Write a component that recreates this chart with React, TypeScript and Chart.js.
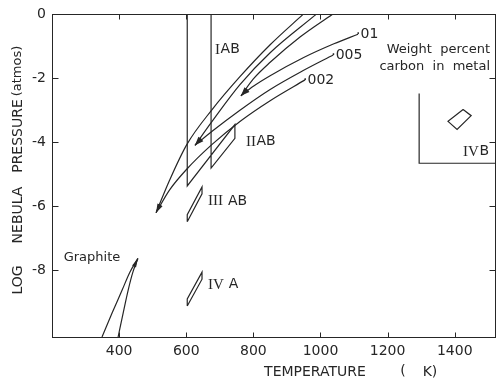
import React, { useEffect, useRef } from "react";
import { Chart, registerables } from "chart.js";

Chart.register(...registerables);

// ---------- axes ----------
const X_MIN = 200;
const X_MAX = 1523;
const Y_MIN = -10.1;
const Y_MAX = 0;
const X_TICKS = [400, 600, 800, 1000, 1200, 1400];
const Y_TICKS = [0, -2, -4, -6, -8];

// ---------- carbon-content wedges (T in K, log P in atm) ----------
// wedge 1 (0.002 wt%)
const W1_STEEP_T = [510, 550, 602, 677, 760, 850, 948];
const W1_STEEP_P = [-6.21, -5.2, -4.07, -2.98, -1.95, -0.95, 0];
const W1_SHALLOW_T = [510, 550, 602, 677, 760, 850, 954];
const W1_SHALLOW_P = [-6.21, -5.5, -4.84, -4.07, -3.35, -2.7, -2.05];
// wedge 2 (0.005 wt%)
const W2_STEEP_T = [626, 677, 760, 850, 987];
const W2_STEEP_P = [-4.1, -3.35, -2.2, -1.2, 0];
const W2_SHALLOW_T = [626, 677, 760, 850, 950, 1038];
const W2_SHALLOW_P = [-4.1, -3.66, -3.0, -2.35, -1.75, -1.27];
// wedge 3 (0.01 wt%)
const W3_STEEP_T = [763, 800, 850, 940, 1035];
const W3_STEEP_P = [-2.55, -2.02, -1.5, -0.7, 0];
const W3_SHALLOW_T = [763, 800, 850, 950, 1040, 1112];
const W3_SHALLOW_P = [-2.55, -2.25, -1.92, -1.35, -0.92, -0.62];
const CARBON_LABELS = ["·01", "·005", "·002"];

// ---------- graphite ----------
const GRAPHITE_LEFT_T = [349, 379, 409, 432, 456];
const GRAPHITE_RIGHT_T = [397, 412, 427, 441, 456];
const GRAPHITE_P = [-10.1, -9.35, -8.63, -8.07, -7.64];

// ---------- iron meteorite group fields ----------
const IAB_IIAB_T = [603, 603, 745, 745, 674, 674];
const IAB_IIAB_P = [0, -5.37, -3.45, -3.88, -4.81, 0];
const IIIAB_T = [603, 603, 647, 647, 603];
const IIIAB_P = [-6.49, -6.27, -5.4, -5.62, -6.49];
const IVA_T = [603, 603, 647, 647, 603];
const IVA_P = [-9.13, -8.91, -8.07, -8.29, -9.13];
const IVB_T = [1425, 1449, 1407, 1380, 1425];
const IVB_P = [-2.98, -3.17, -3.6, -3.35, -2.98];
const INSET_T = [1294, 1294, 1523];
const INSET_P = [-2.48, -4.66, -4.66];

const GROUP_NUMERALS = ["I", "II", "III", "IV", "IV"];
const GROUP_LETTERS = ["AB", "AB", " AB", " A", "B"];
const GROUP_T = [686, 778, 665, 665, 1425];
const GROUP_P = [-1.09, -3.98, -5.84, -8.45, -4.29];

const INK = "#262626";
const SANS = "'DejaVu Sans', sans-serif";
const SERIF = "'Liberation Serif', serif";

const pts = (T: number[], P: number[]) => T.map((t, i) => ({ x: t, y: P[i] }));

function curve(T: number[], P: number[]) {
  return {
    data: pts(T, P),
    showLine: true,
    borderColor: INK,
    borderWidth: 1.2,
    pointRadius: 0,
    fill: false,
    cubicInterpolationMode: "monotone" as const,
  };
}
function poly(T: number[], P: number[]) {
  return {
    data: pts(T, P),
    showLine: true,
    borderColor: INK,
    borderWidth: 1.2,
    pointRadius: 0,
    fill: false,
    tension: 0,
  };
}

function drawArrow(ctx: CanvasRenderingContext2D, tx: number, ty: number, fx: number, fy: number) {
  const dx = tx - fx, dy = ty - fy;
  const d = Math.hypot(dx, dy) || 1;
  const ux = dx / d, uy = dy / d;
  const len = 9, half = 2.2;
  const bx = tx - ux * len, by = ty - uy * len;
  ctx.beginPath();
  ctx.moveTo(tx, ty);
  ctx.lineTo(bx - uy * half, by + ux * half);
  ctx.lineTo(bx + uy * half, by - ux * half);
  ctx.closePath();
  ctx.fill();
}

const overlay = {
  id: "overlay",
  afterDatasetsDraw(chart: any) {
    const { ctx, chartArea: a, scales } = chart;
    const sx = scales.x, sy = scales.y;
    const px = (t: number) => sx.getPixelForValue(t);
    const py = (p: number) => sy.getPixelForValue(p);
    ctx.save();
    ctx.strokeStyle = INK;
    ctx.fillStyle = INK;
    ctx.lineWidth = 1;
    const L = Math.round(a.left) + 0.5, R = Math.round(a.right) - 0.5;
    const T = Math.round(a.top) + 0.5, B = Math.round(a.bottom) + 0.5;
    ctx.strokeRect(L, T, R - L, B - T);
    // inward tick marks
    ctx.beginPath();
    X_TICKS.forEach((v) => {
      const X = Math.round(px(v)) + 0.5;
      ctx.moveTo(X, B); ctx.lineTo(X, B - 5);
      ctx.moveTo(X, T); ctx.lineTo(X, T + 5);
    });
    Y_TICKS.forEach((v) => {
      if (v === Y_MAX) return;
      const Y = Math.round(py(v)) + 0.5;
      ctx.moveTo(L, Y); ctx.lineTo(L + 6, Y);
      ctx.moveTo(R, Y); ctx.lineTo(R - 6, Y);
    });
    ctx.stroke();

    // arrowheads at wedge tips and graphite apex
    const tipArrow = (Tarr: number[], Parr: number[], tipIdx: number, fromIdx: number) =>
      drawArrow(ctx, px(Tarr[tipIdx]), py(Parr[tipIdx]), px(Tarr[fromIdx]), py(Parr[fromIdx]));
    tipArrow(W1_STEEP_T, W1_STEEP_P, 0, 1);
    tipArrow(W1_SHALLOW_T, W1_SHALLOW_P, 0, 1);
    tipArrow(W2_STEEP_T, W2_STEEP_P, 0, 1);
    tipArrow(W2_SHALLOW_T, W2_SHALLOW_P, 0, 1);
    tipArrow(W3_STEEP_T, W3_STEEP_P, 0, 1);
    tipArrow(W3_SHALLOW_T, W3_SHALLOW_P, 0, 1);
    const gl = GRAPHITE_LEFT_T.length - 1;
    drawArrow(ctx, px(GRAPHITE_LEFT_T[gl]), py(GRAPHITE_P[gl]),
      (px(GRAPHITE_LEFT_T[gl - 1]) + px(GRAPHITE_RIGHT_T[gl - 1])) / 2, py(GRAPHITE_P[gl - 1]));

    // carbon labels at the end of shallow curves
    ctx.textBaseline = "middle";
    ctx.textAlign = "left";
    ctx.font = `14px ${SANS}`;
    const ends: [number[], number[]][] = [[W3_SHALLOW_T, W3_SHALLOW_P], [W2_SHALLOW_T, W2_SHALLOW_P], [W1_SHALLOW_T, W1_SHALLOW_P]];
    ends.forEach(([Ta, Pa], i) => {
      const k = Ta.length - 1;
      ctx.fillText(CARBON_LABELS[i], px(Ta[k]) - 2, py(Pa[k]));
    });

    // group labels
    GROUP_NUMERALS.forEach((num, i) => {
      let x = px(GROUP_T[i]);
      const y = py(GROUP_P[i]);
      ctx.font = `15px ${SERIF}`;
      ctx.fillText(num, x, y + 0.5);
      x += ctx.measureText(num).width + 0.5;
      ctx.font = `14px ${SANS}`;
      ctx.fillText(GROUP_LETTERS[i], x, y);
    });

    // Graphite label
    ctx.font = `13px ${SANS}`;
    ctx.textAlign = "center";
    ctx.fillText("Graphite", px(319), py(-7.61));

    // legend text
    ctx.textAlign = "right";
    ctx.font = `13px ${SANS}`;
    ctx.fillText("Weight  percent", 490, 50);
    ctx.fillText("carbon  in  metal", 490, 67);

    // axis titles
    ctx.textAlign = "center";
    ctx.font = `14px ${SANS}`;
    ctx.fillText("TEMPERATURE", 315, 372);
    ctx.fillText("(", 403, 371);
    ctx.fillText("K)", 430, 372);
    ctx.save();
    ctx.translate(18, 0);
    ctx.rotate(-Math.PI / 2);
    ctx.fillText("LOG", -280, 0);
    ctx.fillText("NEBULA", -215, 0);
    ctx.fillText("PRESSURE", -136, 0);
    ctx.font = `13px ${SANS}`;
    ctx.fillText("(atmos)", -71, 0);
    ctx.restore();
    ctx.restore();
  },
};

export default function App() {
  const ref = useRef<HTMLCanvasElement | null>(null);
  useEffect(() => {
    if (!ref.current) return;
    const chart = new Chart(ref.current, {
      type: "scatter",
      data: {
        datasets: [
          curve(W1_STEEP_T, W1_STEEP_P),
          curve(W1_SHALLOW_T, W1_SHALLOW_P),
          curve(W2_STEEP_T, W2_STEEP_P),
          curve(W2_SHALLOW_T, W2_SHALLOW_P),
          curve(W3_STEEP_T, W3_STEEP_P),
          curve(W3_SHALLOW_T, W3_SHALLOW_P),
          curve(GRAPHITE_LEFT_T, GRAPHITE_P),
          curve(GRAPHITE_RIGHT_T, GRAPHITE_P),
          poly(IAB_IIAB_T, IAB_IIAB_P),
          poly(IIIAB_T, IIIAB_P),
          poly(IVA_T, IVA_P),
          poly(IVB_T, IVB_P),
          poly(INSET_T, INSET_P),
        ] as any,
      },
      options: {
        responsive: false,
        maintainAspectRatio: false,
        animation: false,
        layout: { padding: { top: 12, right: 1, left: 0, bottom: 0 } },
        plugins: {
          legend: { display: false },
          tooltip: { enabled: false },
          title: { display: false },
        },
        scales: {
          x: {
            type: "linear",
            min: X_MIN,
            max: X_MAX,
            afterBuildTicks: (s: any) => { s.ticks = X_TICKS.map((v) => ({ value: v })); },
            afterFit: (s: any) => { s.height = 46; },
            grid: { display: false, drawTicks: false },
            border: { display: false },
            ticks: {
              color: INK, padding: 6, maxRotation: 0, font: { family: SANS, size: 14 },
              callback: (v: any) => String(v),
            },
          },
          y: {
            type: "linear",
            min: Y_MIN,
            max: Y_MAX,
            afterBuildTicks: (s: any) => { s.ticks = Y_TICKS.map((v) => ({ value: v })); },
            afterFit: (s: any) => { s.width = 52; },
            grid: { display: false, drawTicks: false },
            border: { display: false },
            ticks: {
              color: INK, padding: 6, font: { family: SANS, size: 14 },
              callback: (v: any) => String(v),
            },
          },
        },
      },
      plugins: [overlay],
    });
    return () => chart.destroy();
  }, []);
  return (
    <div style={{ position: "fixed", left: 0, top: 0, width: 497, height: 383, background: "#fff" }}>
      <canvas ref={ref} width={497} height={383} style={{ display: "block" }} />
    </div>
  );
}
